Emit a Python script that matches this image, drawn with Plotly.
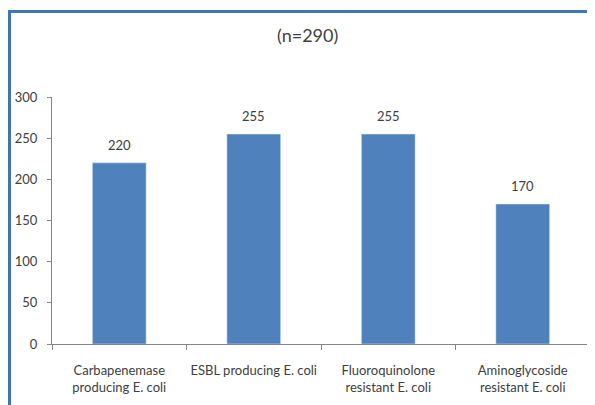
import plotly.graph_objects as go

categories = ["Carbapenemase<br>producing E. coli", "ESBL producing E. coli",
              "Fluoroquinolone<br>resistant E. coli", "Aminoglycoside<br>resistant E. coli"]
values = [220, 255, 255, 170]
y_ticks = [0, 50, 100, 150, 200, 250, 300]
title_text = "(n=290)"

# page body has an 8px margin; figure coordinates below are relative to the figure
OFF = 8
W, H = 587, 397
L, T = 52 - OFF, 97 - OFF
R = W - (590 - OFF)
B = H - (344 - OFF)
pw = W - L - R
ph = H - T - B

def px_x(x):
    return (x - OFF - L) / pw

def px_y(y):
    return (H - B - (y - OFF)) / ph

font = "Lato, 'Open Sans', sans-serif"
txt = "#404040"
axis_col = "#868686"
frame_col = "#3D75B6"

fig = go.Figure(go.Bar(x=categories, y=values, marker_color="#4F81BD", width=0.4))

for c, v in zip(categories, values):
    fig.add_annotation(x=c, y=v, text=str(v), showarrow=False, yanchor="bottom",
                       yshift=8, font=dict(family=font, size=13, color=txt))

fig.update_layout(
    width=W, height=H, margin=dict(l=L, r=R, t=T, b=B),
    paper_bgcolor="white", plot_bgcolor="white", showlegend=False,
    font=dict(family=font, color=txt, size=13),
)
fig.update_yaxes(range=[0, 300], tickvals=y_ticks, showgrid=False, showline=True,
                 linecolor=axis_col, linewidth=1, ticks="outside", ticklen=4,
                 tickcolor=axis_col, tickfont=dict(size=13, color=txt, family=font),
                 ticklabelstandoff=7, zeroline=False, automargin=False)
fig.update_xaxes(showgrid=False, showline=True, linecolor=axis_col, linewidth=1,
                 ticks="outside", ticklen=5, tickcolor=axis_col, tickson="boundaries",
                 tickangle=0, tickfont=dict(size=13, color=txt, family=font),
                 ticklabelstandoff=14, automargin=False)

fig.add_annotation(text=title_text, xref="paper", yref="paper", x=px_x(307), y=px_y(35),
                   yanchor="middle", xanchor="center", showarrow=False,
                   font=dict(size=18, color=txt, family=font))

fig.add_shape(type="line", xref="paper", yref="paper", x0=px_x(9.5), x1=px_x(9.5),
              y0=px_y(420), y1=px_y(11.5), line=dict(color=frame_col, width=3))
fig.add_shape(type="line", xref="paper", yref="paper", x0=px_x(8), x1=px_x(610),
              y0=px_y(11.5), y1=px_y(11.5), line=dict(color=frame_col, width=3))

fig.write_html("out.html")
